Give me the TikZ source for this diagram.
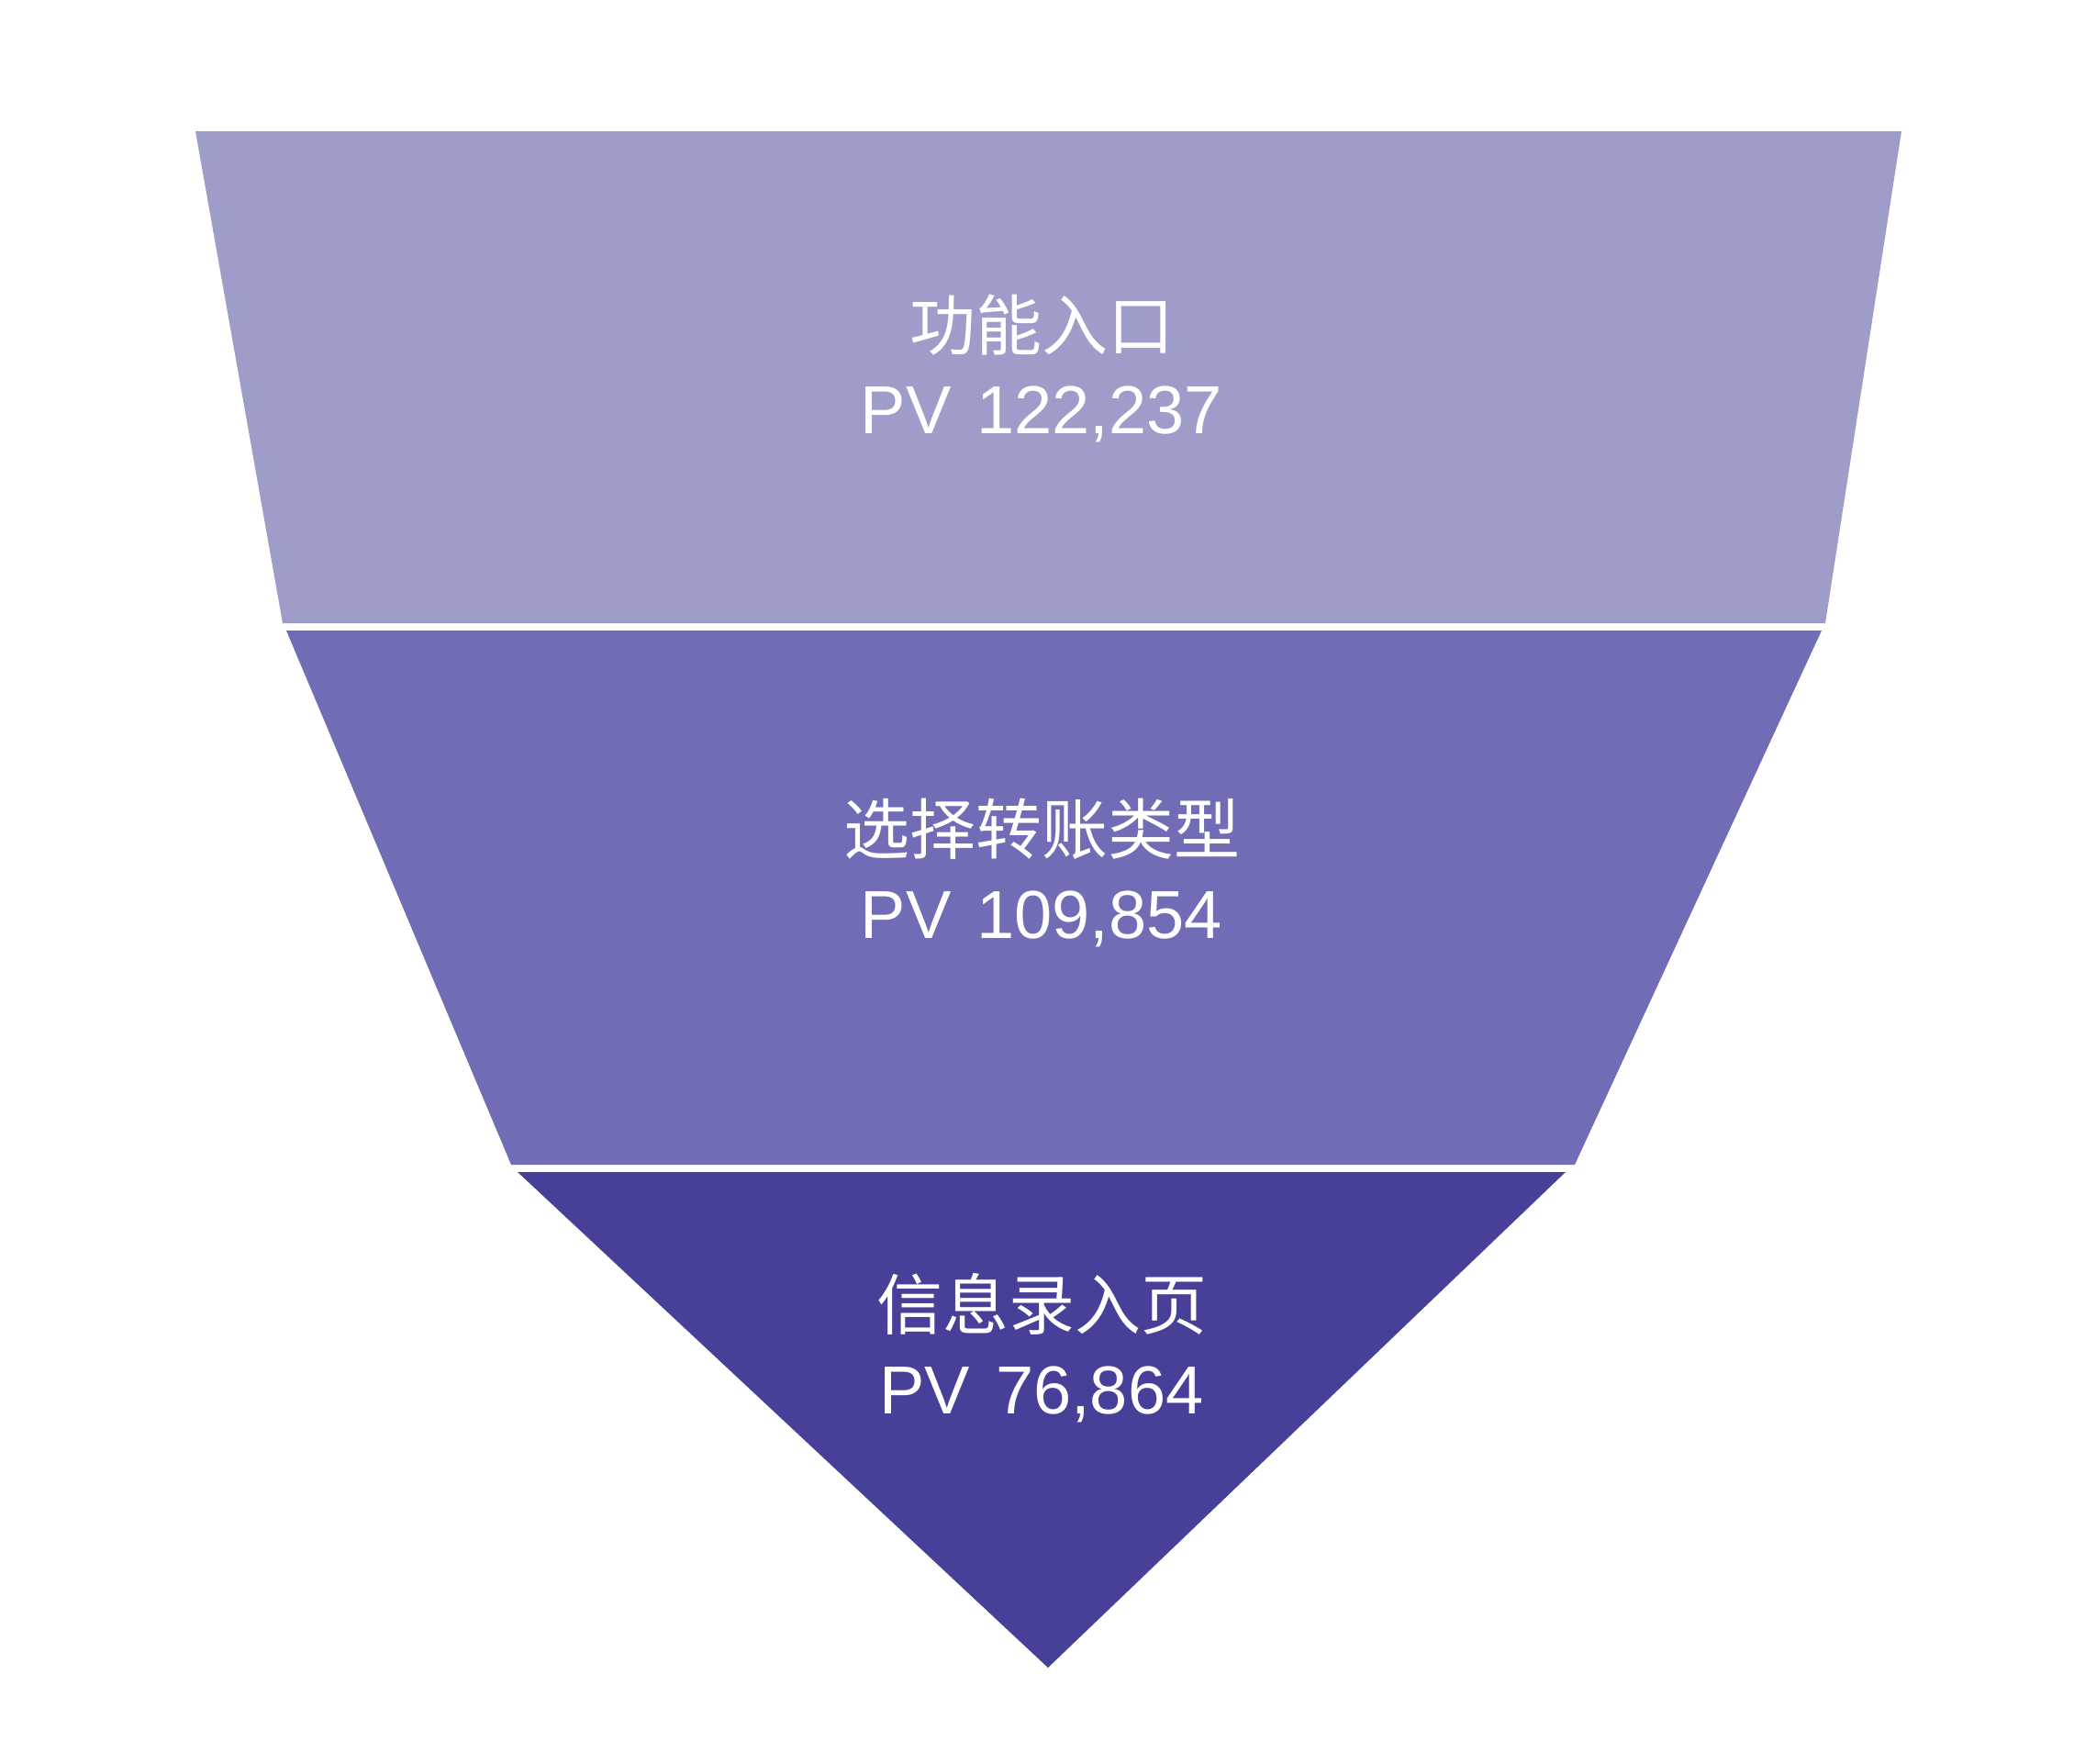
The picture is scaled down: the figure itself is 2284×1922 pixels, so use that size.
\documentclass[tikz,border=0pt]{standalone}
\usepackage{fontspec}
\setmainfont{Liberation Sans}
\newfontfamily\cjkfont{Noto Sans CJK SC}
\definecolor{lvA}{RGB}{158,157,201}
\definecolor{lvB}{RGB}{112,108,181}
\definecolor{lvC}{RGB}{70,64,152}
\begin{document}
\begin{tikzpicture}[x=1pt,y=-1pt,
  cjklbl/.style={text=white,inner sep=0pt,font=\cjkfont\fontsize{72}{80}\selectfont},
  pvlbl/.style={text=white,inner sep=0pt,font=\fontsize{74}{80}\selectfont}]
\useasboundingbox (0,0) rectangle (2284,1922);
\fill[white] (0,0) rectangle (2284,1922);
% top trapezoid
\coordinate (a1) at (213,143);
\coordinate (a2) at (2072,143);
\coordinate (a3) at (1989,679);
\coordinate (a4) at (308,679);
\fill[lvA] (a1) -- (a2) -- (a3) -- (a4) -- cycle;
% middle trapezoid
\coordinate (b1) at (312,687);
\coordinate (b2) at (1985,687);
\coordinate (b3) at (1716,1269);
\coordinate (b4) at (557,1269);
\fill[lvB] (b1) -- (b2) -- (b3) -- (b4) -- cycle;
% bottom triangle
\coordinate (c1) at (564,1277);
\coordinate (c2) at (1706,1277);
\coordinate (c3) at (1142,1817);
\fill[lvC] (c1) -- (c2) -- (c3) -- cycle;
% labels
\node[cjklbl] (t1) at (1135,354) {功能入口};
\node[pvlbl]  (p1) at (1135,451) {PV\hspace{0.1em} 122,237};
\node[cjklbl] (t2) at (1135,903) {选择转账类型};
\node[pvlbl]  (p2) at (1135,1001) {PV\hspace{0.1em} 109,854};
\node[cjklbl] (t3) at (1135,1421) {信息录入页};
\node[pvlbl]  (p3) at (1135,1519) {PV\hspace{0.1em} 76,864};
\end{tikzpicture}
\end{document}
